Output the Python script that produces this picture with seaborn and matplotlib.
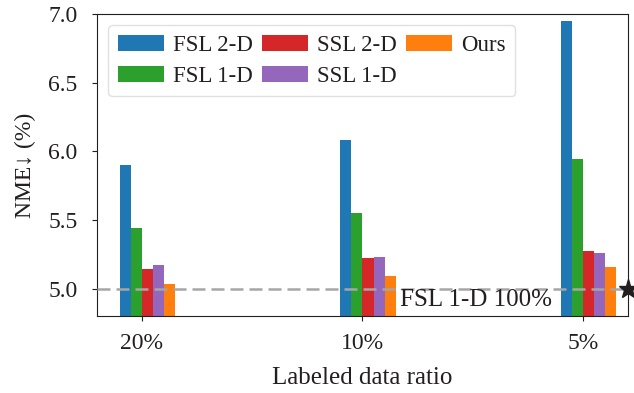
import numpy as np
import pandas as pd
import matplotlib
matplotlib.use("Agg")
import matplotlib.pyplot as plt
import seaborn as sns

ratios = ["20%", "10%", "5%"]
methods = ["FSL 2-D", "FSL 1-D", "SSL 2-D", "SSL 1-D", "Ours"]
fsl_2d = [5.90, 6.08, 6.95]
fsl_1d = [5.44, 5.55, 5.94]
ssl_2d = [5.14, 5.22, 5.27]
ssl_1d = [5.17, 5.23, 5.26]
ours = [5.03, 5.09, 5.16]
baseline_value = 5.0
baseline_label = "FSL 1-D 100%"
colors = ["#1f77b4", "#2ca02c", "#d62728", "#9467bd", "#ff7f0e"]

series = [fsl_2d, fsl_1d, ssl_2d, ssl_1d, ours]
rows = []
for m, vals in zip(methods, series):
    for r, v in zip(ratios, vals):
        rows.append({"ratio": r, "nme": v, "method": m})
df = pd.DataFrame(rows)

sns.set_style("ticks")
plt.rcParams["font.family"] = ["Liberation Serif", "DejaVu Serif"]
plt.rcParams["mathtext.fontset"] = "stix"

fig, ax = plt.subplots(figsize=(6.34, 3.93), dpi=100)
fig.subplots_adjust(left=0.153, right=0.9905, top=0.9644, bottom=0.196)

sns.barplot(data=df, x="ratio", y="nme", hue="method", order=ratios,
            hue_order=methods, palette=colors, width=0.25, saturation=1,
            linewidth=0, ax=ax, zorder=2)

ax.set_ylim(4.8, 7.0)
ax.set_yticks([5.0, 5.5, 6.0, 6.5, 7.0])
ax.set_yticklabels(["5.0", "5.5", "6.0", "6.5", "7.0"])
tick_pos = np.arange(len(ratios)) - 0.025
ax.set_xticks(tick_pos)
ax.set_xticklabels(ratios)
ax.set_xlim(tick_pos[0] - 0.202, tick_pos[-1] + 0.202)
ax.tick_params(labelsize=17, colors="#231f20")
ax.tick_params(axis="x", pad=9)
ax.tick_params(axis="y", pad=10.5)

ax.axhline(baseline_value, color="#a6a6a6", lw=1.8, dashes=(5.2, 2.4), zorder=3)
ax.plot([ax.get_xlim()[1]], [baseline_value], marker="*", color="#231f20",
        markersize=14, clip_on=False, zorder=5)
ax.text(1.145, baseline_value - 0.005, baseline_label, ha="left", va="top",
        fontsize=18, color="#231f20")

ax.set_xlabel("Labeled data ratio", fontsize=18, color="#231f20", labelpad=9)
ax.set_ylabel("NME↓ (%)", fontsize=17, color="#231f20", labelpad=9)

ax.legend(loc="upper left", ncol=3, fontsize=16.5, columnspacing=0.4,
          handletextpad=0.4, handlelength=2.0, labelspacing=0.42,
          borderpad=0.42, frameon=True, framealpha=0.8, edgecolor="0.85")
for t in ax.get_legend().get_texts():
    t.set_color("#231f20")

for s in ax.spines.values():
    s.set_color("#231f20")

fig.savefig("out.png", dpi=100)
